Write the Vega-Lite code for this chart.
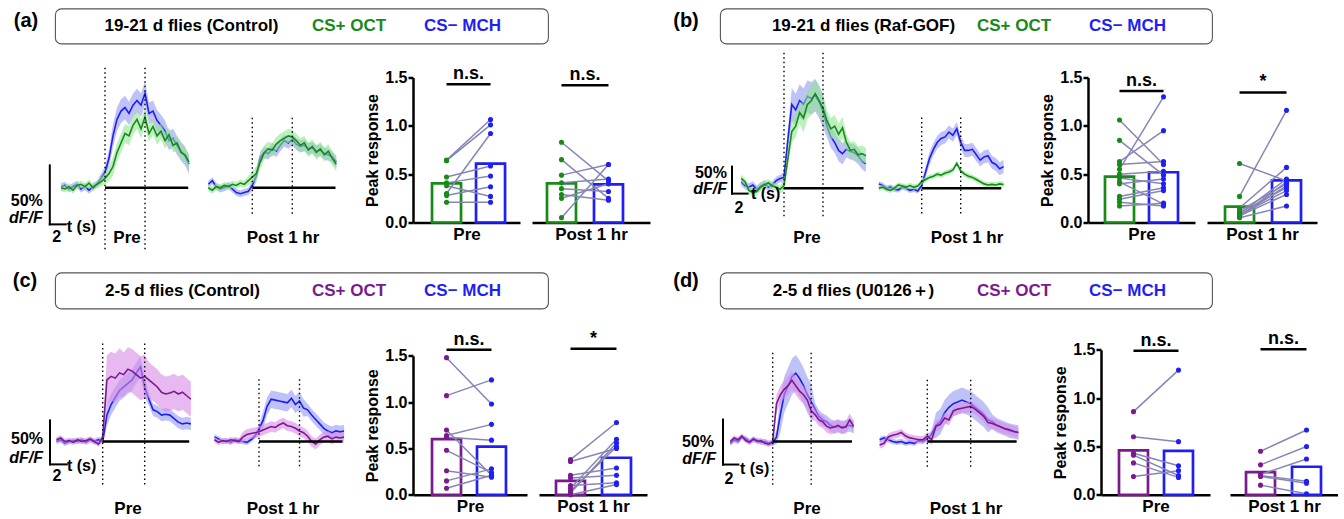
{
"$schema":"https://vega.github.io/schema/vega-lite/v6.json",
"padding":{"left":5,"top":7.5,"right":0,"bottom":0},
"spacing":0,
"resolve":{"scale":{"color":"independent","stroke":"independent"}},
"datasets":{
"a_pre":[
{"t":-5.5,"pm":0,"ps":0.03,"nm":0.01,"ns":0.03},{"t":-5,"pm":-0.01,"ps":0.03,"nm":0.02,"ns":0.03},{"t":-4.5,"pm":0.01,"ps":0.03,"nm":-0.01,"ns":0.03},{"t":-4,"pm":-0.02,"ps":0.03,"nm":0.01,"ns":0.03},{"t":-3.5,"pm":0.02,"ps":0.03,"nm":0.03,"ns":0.03},{"t":-3,"pm":0.03,"ps":0.03,"nm":-0.01,"ns":0.03},{"t":-2.5,"pm":0.01,"ps":0.03,"nm":0.01,"ns":0.03},{"t":-2,"pm":0.04,"ps":0.03,"nm":-0.02,"ns":0.03},{"t":-1.5,"pm":0,"ps":0.03,"nm":0.01,"ns":0.03},{"t":-1,"pm":0.03,"ps":0.03,"nm":0.03,"ns":0.03},{"t":-0.5,"pm":0.05,"ps":0.04,"nm":0.08,"ns":0.04},{"t":0,"pm":0.08,"ps":0.05,"nm":0.13,"ns":0.05},{"t":0.5,"pm":0.12,"ps":0.06,"nm":0.25,"ns":0.07},{"t":1,"pm":0.18,"ps":0.08,"nm":0.44,"ns":0.1},{"t":1.5,"pm":0.3,"ps":0.08,"nm":0.58,"ns":0.1},{"t":2,"pm":0.38,"ps":0.08,"nm":0.65,"ns":0.1},{"t":2.5,"pm":0.46,"ps":0.08,"nm":0.68,"ns":0.1},{"t":3,"pm":0.44,"ps":0.08,"nm":0.63,"ns":0.1},{"t":3.5,"pm":0.53,"ps":0.08,"nm":0.7,"ns":0.1},{"t":4,"pm":0.58,"ps":0.08,"nm":0.74,"ns":0.1},{"t":4.5,"pm":0.5,"ps":0.08,"nm":0.7,"ns":0.1},{"t":5,"pm":0.6,"ps":0.08,"nm":0.8,"ns":0.1},{"t":5.5,"pm":0.46,"ps":0.07,"nm":0.63,"ns":0.09},{"t":6,"pm":0.52,"ps":0.07,"nm":0.65,"ns":0.09},{"t":6.5,"pm":0.44,"ps":0.07,"nm":0.57,"ns":0.09},{"t":7,"pm":0.48,"ps":0.07,"nm":0.53,"ns":0.09},{"t":7.5,"pm":0.4,"ps":0.07,"nm":0.48,"ns":0.09},{"t":8,"pm":0.45,"ps":0.06,"nm":0.4,"ns":0.08},{"t":8.5,"pm":0.36,"ps":0.06,"nm":0.42,"ns":0.08},{"t":9,"pm":0.38,"ps":0.06,"nm":0.36,"ns":0.08},{"t":9.5,"pm":0.3,"ps":0.06,"nm":0.31,"ns":0.08},{"t":10,"pm":0.28,"ps":0.06,"nm":0.27,"ns":0.08},{"t":10.5,"pm":0.22,"ps":0.06,"nm":0.2,"ns":0.08}],
"a_post":[
{"t":-5.5,"pm":0,"ps":0.03,"nm":0.03,"ns":0.03},{"t":-5,"pm":-0.02,"ps":0.03,"nm":0.06,"ns":0.03},{"t":-4.5,"pm":0.01,"ps":0.03,"nm":0.01,"ns":0.03},{"t":-4,"pm":0,"ps":0.03,"nm":-0.01,"ns":0.03},{"t":-3.5,"pm":0.02,"ps":0.03,"nm":0,"ns":0.03},{"t":-3,"pm":0.01,"ps":0.03,"nm":0.02,"ns":0.03},{"t":-2.5,"pm":0.03,"ps":0.03,"nm":-0.01,"ns":0.03},{"t":-2,"pm":0.02,"ps":0.03,"nm":-0.04,"ns":0.03},{"t":-1.5,"pm":0.04,"ps":0.03,"nm":-0.05,"ns":0.03},{"t":-1,"pm":0.03,"ps":0.03,"nm":-0.04,"ns":0.03},{"t":-0.5,"pm":0.06,"ps":0.04,"nm":-0.03,"ns":0.03},{"t":0,"pm":0.09,"ps":0.05,"nm":0.02,"ns":0.04},{"t":0.5,"pm":0.12,"ps":0.06,"nm":0.1,"ns":0.05},{"t":1,"pm":0.22,"ps":0.06,"nm":0.26,"ns":0.05},{"t":1.5,"pm":0.3,"ps":0.06,"nm":0.3,"ns":0.05},{"t":2,"pm":0.33,"ps":0.06,"nm":0.29,"ns":0.05},{"t":2.5,"pm":0.32,"ps":0.06,"nm":0.33,"ns":0.05},{"t":3,"pm":0.37,"ps":0.06,"nm":0.31,"ns":0.05},{"t":3.5,"pm":0.4,"ps":0.06,"nm":0.36,"ns":0.05},{"t":4,"pm":0.42,"ps":0.06,"nm":0.4,"ns":0.05},{"t":4.5,"pm":0.44,"ps":0.06,"nm":0.38,"ns":0.05},{"t":5,"pm":0.43,"ps":0.06,"nm":0.41,"ns":0.05},{"t":5.5,"pm":0.4,"ps":0.06,"nm":0.37,"ns":0.05},{"t":6,"pm":0.36,"ps":0.06,"nm":0.35,"ns":0.05},{"t":6.5,"pm":0.38,"ps":0.06,"nm":0.36,"ns":0.05},{"t":7,"pm":0.32,"ps":0.06,"nm":0.33,"ns":0.05},{"t":7.5,"pm":0.35,"ps":0.06,"nm":0.34,"ns":0.05},{"t":8,"pm":0.3,"ps":0.06,"nm":0.31,"ns":0.05},{"t":8.5,"pm":0.33,"ps":0.06,"nm":0.32,"ns":0.05},{"t":9,"pm":0.28,"ps":0.06,"nm":0.29,"ns":0.05},{"t":9.5,"pm":0.31,"ps":0.06,"nm":0.28,"ns":0.05},{"t":10,"pm":0.25,"ps":0.06,"nm":0.26,"ns":0.05},{"t":10.5,"pm":0.2,"ps":0.06,"nm":0.22,"ns":0.05}],
"b_pre":[
{"t":-5.5,"pm":0.18,"ps":0.07,"nm":0.12,"ns":0.07},{"t":-5,"pm":0.12,"ps":0.07,"nm":0.05,"ns":0.07},{"t":-4.5,"pm":-0.04,"ps":0.07,"nm":0.02,"ns":0.07},{"t":-4,"pm":-0.08,"ps":0.07,"nm":0.06,"ns":0.07},{"t":-3.5,"pm":-0.06,"ps":0.07,"nm":-0.02,"ns":0.07},{"t":-3,"pm":0.02,"ps":0.07,"nm":0.04,"ns":0.07},{"t":-2.5,"pm":0.06,"ps":0.07,"nm":0.08,"ns":0.07},{"t":-2,"pm":0.1,"ps":0.07,"nm":0.02,"ns":0.07},{"t":-1.5,"pm":0.04,"ps":0.07,"nm":0.06,"ns":0.07},{"t":-1,"pm":0.02,"ps":0.07,"nm":0.14,"ns":0.07},{"t":-0.5,"pm":-0.02,"ps":0.07,"nm":0.18,"ns":0.07},{"t":0,"pm":0.05,"ps":0.1,"nm":0.2,"ns":0.1},{"t":0.5,"pm":0.55,"ps":0.15,"nm":0.9,"ns":0.2},{"t":1,"pm":1.05,"ps":0.2,"nm":1.55,"ns":0.3},{"t":1.5,"pm":1.15,"ps":0.2,"nm":1.45,"ns":0.3},{"t":2,"pm":1.4,"ps":0.2,"nm":1.62,"ns":0.3},{"t":2.5,"pm":1.3,"ps":0.27,"nm":1.55,"ns":0.3},{"t":3,"pm":1.55,"ps":0.27,"nm":1.7,"ns":0.3},{"t":3.5,"pm":1.62,"ps":0.27,"nm":1.66,"ns":0.3},{"t":4,"pm":1.75,"ps":0.27,"nm":1.72,"ns":0.3},{"t":4.5,"pm":1.62,"ps":0.27,"nm":1.6,"ns":0.3},{"t":5,"pm":1.48,"ps":0.27,"nm":1.42,"ns":0.3},{"t":5.5,"pm":1.25,"ps":0.2,"nm":1.15,"ns":0.2},{"t":6,"pm":1.1,"ps":0.2,"nm":0.95,"ns":0.2},{"t":6.5,"pm":1.15,"ps":0.2,"nm":0.85,"ns":0.2},{"t":7,"pm":1.0,"ps":0.2,"nm":0.7,"ns":0.2},{"t":7.5,"pm":1.12,"ps":0.2,"nm":0.64,"ns":0.2},{"t":8,"pm":0.85,"ps":0.15,"nm":0.72,"ns":0.15},{"t":8.5,"pm":0.7,"ps":0.15,"nm":0.68,"ns":0.15},{"t":9,"pm":0.72,"ps":0.15,"nm":0.66,"ns":0.15},{"t":9.5,"pm":0.62,"ps":0.15,"nm":0.6,"ns":0.15},{"t":10,"pm":0.64,"ps":0.15,"nm":0.5,"ns":0.15},{"t":10.5,"pm":0.6,"ps":0.15,"nm":0.45,"ns":0.15}],
"b_post":[
{"t":-5.5,"pm":0,"ps":0.05,"nm":0.08,"ns":0.05},{"t":-5,"pm":0.02,"ps":0.05,"nm":0.05,"ns":0.05},{"t":-4.5,"pm":-0.02,"ps":0.05,"nm":0,"ns":0.05},{"t":-4,"pm":-0.04,"ps":0.05,"nm":0.02,"ns":0.05},{"t":-3.5,"pm":0,"ps":0.05,"nm":-0.02,"ns":0.05},{"t":-3,"pm":0.06,"ps":0.05,"nm":-0.03,"ns":0.05},{"t":-2.5,"pm":0.04,"ps":0.05,"nm":0.02,"ns":0.05},{"t":-2,"pm":0.02,"ps":0.05,"nm":0,"ns":0.05},{"t":-1.5,"pm":0.05,"ps":0.05,"nm":-0.04,"ns":0.05},{"t":-1,"pm":0.02,"ps":0.05,"nm":-0.02,"ns":0.05},{"t":-0.5,"pm":0.04,"ps":0.05,"nm":-0.05,"ns":0.05},{"t":0,"pm":0.12,"ps":0.05,"nm":0.05,"ns":0.06},{"t":0.5,"pm":0.16,"ps":0.05,"nm":0.3,"ns":0.1},{"t":1,"pm":0.2,"ps":0.05,"nm":0.55,"ns":0.12},{"t":1.5,"pm":0.22,"ps":0.05,"nm":0.72,"ns":0.12},{"t":2,"pm":0.26,"ps":0.05,"nm":0.85,"ns":0.12},{"t":2.5,"pm":0.24,"ps":0.05,"nm":0.92,"ns":0.12},{"t":3,"pm":0.28,"ps":0.05,"nm":0.95,"ns":0.12},{"t":3.5,"pm":0.3,"ps":0.05,"nm":1.04,"ns":0.12},{"t":4,"pm":0.34,"ps":0.05,"nm":0.98,"ns":0.12},{"t":4.5,"pm":0.46,"ps":0.05,"nm":1.1,"ns":0.12},{"t":5,"pm":0.32,"ps":0.05,"nm":0.85,"ns":0.12},{"t":5.5,"pm":0.26,"ps":0.05,"nm":0.7,"ns":0.12},{"t":6,"pm":0.22,"ps":0.05,"nm":0.7,"ns":0.12},{"t":6.5,"pm":0.2,"ps":0.05,"nm":0.72,"ns":0.12},{"t":7,"pm":0.16,"ps":0.05,"nm":0.62,"ns":0.12},{"t":7.5,"pm":0.12,"ps":0.05,"nm":0.52,"ns":0.12},{"t":8,"pm":0.08,"ps":0.05,"nm":0.58,"ns":0.12},{"t":8.5,"pm":0.06,"ps":0.05,"nm":0.6,"ns":0.12},{"t":9,"pm":0.07,"ps":0.05,"nm":0.48,"ns":0.12},{"t":9.5,"pm":0.06,"ps":0.05,"nm":0.44,"ns":0.12},{"t":10,"pm":0.08,"ps":0.05,"nm":0.36,"ns":0.12},{"t":10.5,"pm":0.07,"ps":0.05,"nm":0.4,"ns":0.12}],
"c_pre":[
{"t":-5.5,"pm":0.02,"ps":0.03,"nm":0,"ns":0.03},{"t":-5,"pm":0.04,"ps":0.03,"nm":0.02,"ns":0.03},{"t":-4.5,"pm":0,"ps":0.03,"nm":-0.02,"ns":0.03},{"t":-4,"pm":0.01,"ps":0.03,"nm":0,"ns":0.03},{"t":-3.5,"pm":-0.01,"ps":0.03,"nm":0.01,"ns":0.03},{"t":-3,"pm":0.02,"ps":0.03,"nm":0,"ns":0.03},{"t":-2.5,"pm":0,"ps":0.03,"nm":0.02,"ns":0.03},{"t":-2,"pm":0.01,"ps":0.03,"nm":-0.01,"ns":0.03},{"t":-1.5,"pm":0.03,"ps":0.03,"nm":0.02,"ns":0.03},{"t":-1,"pm":0,"ps":0.03,"nm":0,"ns":0.03},{"t":-0.5,"pm":-0.03,"ps":0.03,"nm":0.02,"ns":0.03},{"t":0,"pm":0.05,"ps":0.05,"nm":0,"ns":0.04},{"t":0.5,"pm":0.7,"ps":0.28,"nm":0.3,"ns":0.12},{"t":1,"pm":0.74,"ps":0.28,"nm":0.42,"ns":0.12},{"t":1.5,"pm":0.72,"ps":0.28,"nm":0.5,"ns":0.12},{"t":2,"pm":0.78,"ps":0.28,"nm":0.58,"ns":0.12},{"t":2.5,"pm":0.76,"ps":0.25,"nm":0.62,"ns":0.12},{"t":3,"pm":0.82,"ps":0.25,"nm":0.66,"ns":0.12},{"t":3.5,"pm":0.8,"ps":0.25,"nm":0.7,"ns":0.12},{"t":4,"pm":0.76,"ps":0.25,"nm":0.78,"ns":0.12},{"t":4.5,"pm":0.72,"ps":0.25,"nm":0.85,"ns":0.12},{"t":5,"pm":0.74,"ps":0.25,"nm":0.62,"ns":0.12},{"t":5.5,"pm":0.7,"ps":0.2,"nm":0.48,"ns":0.07},{"t":6,"pm":0.66,"ps":0.2,"nm":0.36,"ns":0.07},{"t":6.5,"pm":0.62,"ps":0.2,"nm":0.34,"ns":0.07},{"t":7,"pm":0.56,"ps":0.2,"nm":0.3,"ns":0.07},{"t":7.5,"pm":0.54,"ps":0.2,"nm":0.31,"ns":0.07},{"t":8,"pm":0.55,"ps":0.2,"nm":0.3,"ns":0.07},{"t":8.5,"pm":0.57,"ps":0.2,"nm":0.26,"ns":0.07},{"t":9,"pm":0.54,"ps":0.2,"nm":0.22,"ns":0.07},{"t":9.5,"pm":0.56,"ps":0.2,"nm":0.2,"ns":0.07},{"t":10,"pm":0.52,"ps":0.2,"nm":0.21,"ns":0.07},{"t":10.5,"pm":0.48,"ps":0.2,"nm":0.2,"ns":0.07}],
"c_post":[
{"t":-5.5,"pm":0.02,"ps":0.03,"nm":0.05,"ns":0.03},{"t":-5,"pm":-0.01,"ps":0.03,"nm":0.03,"ns":0.03},{"t":-4.5,"pm":0.01,"ps":0.03,"nm":0,"ns":0.03},{"t":-4,"pm":0,"ps":0.03,"nm":0.01,"ns":0.03},{"t":-3.5,"pm":0.02,"ps":0.03,"nm":-0.01,"ns":0.03},{"t":-3,"pm":0.01,"ps":0.03,"nm":0.02,"ns":0.03},{"t":-2.5,"pm":0,"ps":0.03,"nm":0.01,"ns":0.03},{"t":-2,"pm":0.05,"ps":0.06,"nm":0,"ns":0.03},{"t":-1.5,"pm":0.08,"ps":0.06,"nm":-0.01,"ns":0.03},{"t":-1,"pm":0.09,"ps":0.06,"nm":0.02,"ns":0.03},{"t":-0.5,"pm":0.1,"ps":0.06,"nm":0.06,"ns":0.03},{"t":0,"pm":0.11,"ps":0.06,"nm":0.14,"ns":0.05},{"t":0.5,"pm":0.13,"ps":0.06,"nm":0.24,"ns":0.1},{"t":1,"pm":0.15,"ps":0.06,"nm":0.4,"ns":0.1},{"t":1.5,"pm":0.17,"ps":0.06,"nm":0.48,"ns":0.1},{"t":2,"pm":0.16,"ps":0.06,"nm":0.47,"ns":0.1},{"t":2.5,"pm":0.19,"ps":0.06,"nm":0.46,"ns":0.1},{"t":3,"pm":0.21,"ps":0.06,"nm":0.45,"ns":0.1},{"t":3.5,"pm":0.18,"ps":0.06,"nm":0.44,"ns":0.1},{"t":4,"pm":0.17,"ps":0.06,"nm":0.49,"ns":0.1},{"t":4.5,"pm":0.15,"ps":0.06,"nm":0.42,"ns":0.1},{"t":5,"pm":0.12,"ps":0.06,"nm":0.46,"ns":0.1},{"t":5.5,"pm":0.1,"ps":0.06,"nm":0.38,"ns":0.1},{"t":6,"pm":0.06,"ps":0.06,"nm":0.36,"ns":0.07},{"t":6.5,"pm":0,"ps":0.06,"nm":0.3,"ns":0.07},{"t":7,"pm":-0.03,"ps":0.06,"nm":0.25,"ns":0.07},{"t":7.5,"pm":0.02,"ps":0.06,"nm":0.2,"ns":0.07},{"t":8,"pm":0.05,"ps":0.06,"nm":0.15,"ns":0.07},{"t":8.5,"pm":0.06,"ps":0.06,"nm":0.12,"ns":0.07},{"t":9,"pm":0.03,"ps":0.06,"nm":0.1,"ns":0.07},{"t":9.5,"pm":0.05,"ps":0.06,"nm":0.12,"ns":0.07},{"t":10,"pm":0.04,"ps":0.06,"nm":0.11,"ns":0.07},{"t":10.5,"pm":0.05,"ps":0.06,"nm":0.12,"ns":0.07}],
"d_pre":[
{"t":-5.5,"pm":0,"ps":0.03,"nm":-0.02,"ns":0.03},{"t":-5,"pm":0.04,"ps":0.03,"nm":0.02,"ns":0.03},{"t":-4.5,"pm":0.02,"ps":0.03,"nm":0,"ns":0.03},{"t":-4,"pm":0.06,"ps":0.03,"nm":0.05,"ns":0.03},{"t":-3.5,"pm":0.01,"ps":0.03,"nm":0.03,"ns":0.03},{"t":-3,"pm":-0.01,"ps":0.03,"nm":0,"ns":0.03},{"t":-2.5,"pm":0.03,"ps":0.03,"nm":0.02,"ns":0.03},{"t":-2,"pm":0,"ps":0.03,"nm":0.01,"ns":0.03},{"t":-1.5,"pm":0.01,"ps":0.03,"nm":-0.01,"ns":0.03},{"t":-1,"pm":-0.02,"ps":0.03,"nm":0,"ns":0.03},{"t":-0.5,"pm":-0.03,"ps":0.03,"nm":-0.02,"ns":0.03},{"t":0,"pm":0,"ps":0.03,"nm":-0.02,"ns":0.03},{"t":0.5,"pm":0.42,"ps":0.1,"nm":0.05,"ns":0.08},{"t":1,"pm":0.52,"ps":0.1,"nm":0.3,"ns":0.2},{"t":1.5,"pm":0.58,"ps":0.1,"nm":0.52,"ns":0.2},{"t":2,"pm":0.62,"ps":0.1,"nm":0.62,"ns":0.2},{"t":2.5,"pm":0.68,"ps":0.1,"nm":0.72,"ns":0.2},{"t":3,"pm":0.62,"ps":0.1,"nm":0.76,"ns":0.2},{"t":3.5,"pm":0.56,"ps":0.1,"nm":0.7,"ns":0.2},{"t":4,"pm":0.52,"ps":0.1,"nm":0.62,"ns":0.2},{"t":4.5,"pm":0.46,"ps":0.1,"nm":0.52,"ns":0.2},{"t":5,"pm":0.34,"ps":0.1,"nm":0.44,"ns":0.2},{"t":5.5,"pm":0.3,"ps":0.07,"nm":0.36,"ns":0.07},{"t":6,"pm":0.24,"ps":0.07,"nm":0.28,"ns":0.07},{"t":6.5,"pm":0.22,"ps":0.07,"nm":0.24,"ns":0.07},{"t":7,"pm":0.17,"ps":0.07,"nm":0.22,"ns":0.07},{"t":7.5,"pm":0.15,"ps":0.07,"nm":0.18,"ns":0.07},{"t":8,"pm":0.16,"ps":0.07,"nm":0.16,"ns":0.07},{"t":8.5,"pm":0.18,"ps":0.07,"nm":0.17,"ns":0.07},{"t":9,"pm":0.15,"ps":0.07,"nm":0.16,"ns":0.07},{"t":9.5,"pm":0.16,"ps":0.07,"nm":0.17,"ns":0.07},{"t":10,"pm":0.24,"ps":0.07,"nm":0.18,"ns":0.07},{"t":10.5,"pm":0.17,"ps":0.07,"nm":0.16,"ns":0.07}],
"d_post":[
{"t":-5.5,"pm":-0.04,"ps":0.04,"nm":0.02,"ns":0.03},{"t":-5,"pm":-0.02,"ps":0.04,"nm":0.04,"ns":0.03},{"t":-4.5,"pm":0.05,"ps":0.04,"nm":0.02,"ns":0.03},{"t":-4,"pm":0.07,"ps":0.04,"nm":0,"ns":0.03},{"t":-3.5,"pm":0.08,"ps":0.04,"nm":-0.01,"ns":0.03},{"t":-3,"pm":0.1,"ps":0.04,"nm":0,"ns":0.03},{"t":-2.5,"pm":0.06,"ps":0.04,"nm":-0.02,"ns":0.03},{"t":-2,"pm":0.04,"ps":0.04,"nm":-0.01,"ns":0.03},{"t":-1.5,"pm":0.03,"ps":0.04,"nm":-0.02,"ns":0.03},{"t":-1,"pm":0.02,"ps":0.04,"nm":0.01,"ns":0.03},{"t":-0.5,"pm":0.02,"ps":0.04,"nm":0,"ns":0.03},{"t":0,"pm":0.06,"ps":0.04,"nm":0.03,"ns":0.03},{"t":0.5,"pm":0.02,"ps":0.06,"nm":0.08,"ns":0.05},{"t":1,"pm":0.17,"ps":0.06,"nm":0.18,"ns":0.14},{"t":1.5,"pm":0.19,"ps":0.06,"nm":0.22,"ns":0.14},{"t":2,"pm":0.26,"ps":0.06,"nm":0.32,"ns":0.14},{"t":2.5,"pm":0.24,"ps":0.06,"nm":0.38,"ns":0.14},{"t":3,"pm":0.34,"ps":0.06,"nm":0.42,"ns":0.14},{"t":3.5,"pm":0.36,"ps":0.06,"nm":0.44,"ns":0.14},{"t":4,"pm":0.37,"ps":0.06,"nm":0.46,"ns":0.14},{"t":4.5,"pm":0.38,"ps":0.06,"nm":0.44,"ns":0.14},{"t":5,"pm":0.39,"ps":0.06,"nm":0.42,"ns":0.14},{"t":5.5,"pm":0.36,"ps":0.06,"nm":0.38,"ns":0.14},{"t":6,"pm":0.32,"ps":0.06,"nm":0.34,"ns":0.14},{"t":6.5,"pm":0.28,"ps":0.06,"nm":0.3,"ns":0.14},{"t":7,"pm":0.21,"ps":0.06,"nm":0.24,"ns":0.14},{"t":7.5,"pm":0.2,"ps":0.06,"nm":0.22,"ns":0.08},{"t":8,"pm":0.18,"ps":0.06,"nm":0.18,"ns":0.08},{"t":8.5,"pm":0.16,"ps":0.06,"nm":0.16,"ns":0.08},{"t":9,"pm":0.14,"ps":0.06,"nm":0.14,"ns":0.08},{"t":9.5,"pm":0.13,"ps":0.06,"nm":0.12,"ns":0.08},{"t":10,"pm":0.11,"ps":0.06,"nm":0.11,"ns":0.08},{"t":10.5,"pm":0.1,"ps":0.06,"nm":0.1,"ns":0.08}],
"dl":[
{"p":"a","ph":"Pre","t":0,"lo":-0.52,"hi":1.02},{"p":"a","ph":"Pre","t":5,"lo":-0.52,"hi":1.02},
{"p":"a","ph":"Post","t":0,"lo":-0.22,"hi":0.6},{"p":"a","ph":"Post","t":5,"lo":-0.22,"hi":0.6},
{"p":"b","ph":"Pre","t":0,"lo":-0.52,"hi":2.51},{"p":"b","ph":"Pre","t":5,"lo":-0.52,"hi":2.51},
{"p":"b","ph":"Post","t":0,"lo":-0.47,"hi":1.35},{"p":"b","ph":"Post","t":5,"lo":-0.47,"hi":1.35},
{"p":"c","ph":"Pre","t":0,"lo":-0.49,"hi":1.14},{"p":"c","ph":"Pre","t":5,"lo":-0.49,"hi":1.14},
{"p":"c","ph":"Post","t":0,"lo":-0.28,"hi":0.72},{"p":"c","ph":"Post","t":5,"lo":-0.28,"hi":0.72},
{"p":"d","ph":"Pre","t":0,"lo":-0.48,"hi":1.02},{"p":"d","ph":"Pre","t":5,"lo":-0.48,"hi":1.02},
{"p":"d","ph":"Post","t":0,"lo":-0.28,"hi":0.7},{"p":"d","ph":"Post","t":5,"lo":-0.28,"hi":0.7}],
"bl":[
{"p":"a","ph":"Pre","t":0,"t2":10.4,"v":0},{"p":"a","ph":"Post","t":0,"t2":10.4,"v":0},
{"p":"b","ph":"Pre","t":0,"t2":10.2,"v":0},{"p":"b","ph":"Post","t":0,"t2":10.2,"v":0},
{"p":"c","ph":"Pre","t":0,"t2":10.3,"v":0},{"p":"c","ph":"Post","t":0,"t2":10.3,"v":0},
{"p":"d","ph":"Pre","t":0,"t2":10.3,"v":0},{"p":"d","ph":"Post","t":0,"t2":10.3,"v":0}],
"sb":[
{"p":"a","t":-6.9,"t2":-4.9,"v":-0.31,"v2":0.19},
{"p":"b","t":-6.67,"t2":-4.67,"v":-0.1,"v2":0.4},
{"p":"c","t":-6.27,"t2":-4.27,"v":-0.26,"v2":0.24},
{"p":"d","t":-6.45,"t2":-4.45,"v":-0.256,"v2":0.244}],
"bars":[
{"p":"a","ph":"Pre","o":"CS+","v":0.405},{"p":"a","ph":"Pre","o":"CS−","v":0.61},
{"p":"a","ph":"Post","o":"CS+","v":0.405},{"p":"a","ph":"Post","o":"CS−","v":0.395},
{"p":"b","ph":"Pre","o":"CS+","v":0.475},{"p":"b","ph":"Pre","o":"CS−","v":0.52},
{"p":"b","ph":"Post","o":"CS+","v":0.165},{"p":"b","ph":"Post","o":"CS−","v":0.435},
{"p":"c","ph":"Pre","o":"CS+","v":0.6},{"p":"c","ph":"Pre","o":"CS−","v":0.52},
{"p":"c","ph":"Post","o":"CS+","v":0.15},{"p":"c","ph":"Post","o":"CS−","v":0.4},
{"p":"d","ph":"Pre","o":"CS+","v":0.46},{"p":"d","ph":"Pre","o":"CS−","v":0.455},
{"p":"d","ph":"Post","o":"CS+","v":0.235},{"p":"d","ph":"Post","o":"CS−","v":0.29}],
"sig":[
{"p":"a","ph":"Pre","a":"CS+","b":"CS−","y":1.43,"s":"n.s."},
{"p":"a","ph":"Post","a":"CS+","b":"CS−","y":1.42,"s":"n.s."},
{"p":"b","ph":"Pre","a":"CS+","b":"CS−","y":1.36,"s":"n.s."},
{"p":"b","ph":"Post","a":"CS+","b":"CS−","y":1.345,"s":"*"},
{"p":"c","ph":"Pre","a":"CS+","b":"CS−","y":1.565,"s":"n.s."},
{"p":"c","ph":"Post","a":"CS+","b":"CS−","y":1.575,"s":"*"},
{"p":"d","ph":"Pre","a":"CS+","b":"CS−","y":1.49,"s":"n.s."},
{"p":"d","ph":"Post","a":"CS+","b":"CS−","y":1.505,"s":"n.s."}],
"pts":[
{"p":"a","ph":"Pre","id":1,"CS+":0.645,"CS−":1.065},{"p":"a","ph":"Pre","id":2,"CS+":0.64,"CS−":1.01},{"p":"a","ph":"Pre","id":3,"CS+":0.3,"CS−":0.92},{"p":"a","ph":"Pre","id":4,"CS+":0.47,"CS−":0.585},{"p":"a","ph":"Pre","id":5,"CS+":0.41,"CS−":0.48},{"p":"a","ph":"Pre","id":6,"CS+":0.38,"CS−":0.27},{"p":"a","ph":"Pre","id":7,"CS+":0.28,"CS−":0.37},{"p":"a","ph":"Pre","id":8,"CS+":0.21,"CS−":0.21},
{"p":"a","ph":"Post","id":1,"CS+":0.83,"CS−":0.43},{"p":"a","ph":"Post","id":2,"CS+":0.65,"CS−":0.25},{"p":"a","ph":"Post","id":3,"CS+":0.49,"CS−":0.6},{"p":"a","ph":"Post","id":4,"CS+":0.41,"CS−":0.45},{"p":"a","ph":"Post","id":5,"CS+":0.35,"CS−":0.32},{"p":"a","ph":"Post","id":6,"CS+":0.29,"CS−":0.23},{"p":"a","ph":"Post","id":7,"CS+":0.25,"CS−":0.4},{"p":"a","ph":"Post","id":8,"CS+":0.05,"CS−":0.6},
{"p":"b","ph":"Pre","id":1,"CS+":1.06,"CS−":0.6},{"p":"b","ph":"Pre","id":2,"CS+":0.85,"CS−":0.49},{"p":"b","ph":"Pre","id":3,"CS+":0.63,"CS−":0.95},{"p":"b","ph":"Pre","id":4,"CS+":0.6,"CS−":0.63},{"p":"b","ph":"Pre","id":5,"CS+":0.55,"CS−":1.3},{"p":"b","ph":"Pre","id":6,"CS+":0.5,"CS−":0.53},{"p":"b","ph":"Pre","id":7,"CS+":0.46,"CS−":0.4},{"p":"b","ph":"Pre","id":8,"CS+":0.42,"CS−":0.19},{"p":"b","ph":"Pre","id":9,"CS+":0.4,"CS−":0.45},{"p":"b","ph":"Pre","id":10,"CS+":0.27,"CS−":0.36},{"p":"b","ph":"Pre","id":11,"CS+":0.24,"CS−":0.33},{"p":"b","ph":"Pre","id":12,"CS+":0.21,"CS−":0.17},{"p":"b","ph":"Pre","id":13,"CS+":0.17,"CS−":0.2},
{"p":"b","ph":"Post","id":1,"CS+":0.61,"CS−":0.43},{"p":"b","ph":"Post","id":2,"CS+":0.27,"CS−":1.16},{"p":"b","ph":"Post","id":3,"CS+":0.15,"CS−":0.57},{"p":"b","ph":"Post","id":4,"CS+":0.12,"CS−":0.4},{"p":"b","ph":"Post","id":5,"CS+":0.1,"CS−":0.36},{"p":"b","ph":"Post","id":6,"CS+":0.09,"CS−":0.45},{"p":"b","ph":"Post","id":7,"CS+":0.08,"CS−":0.33},{"p":"b","ph":"Post","id":8,"CS+":0.07,"CS−":0.29},{"p":"b","ph":"Post","id":9,"CS+":0.06,"CS−":0.42},{"p":"b","ph":"Post","id":10,"CS+":0.05,"CS−":0.17},{"p":"b","ph":"Post","id":11,"CS+":0.07,"CS−":0.38},
{"p":"c","ph":"Pre","id":1,"CS+":1.48,"CS−":0.98},{"p":"c","ph":"Pre","id":2,"CS+":1.07,"CS−":1.24},{"p":"c","ph":"Pre","id":3,"CS+":0.7,"CS−":0.21},{"p":"c","ph":"Pre","id":4,"CS+":0.64,"CS−":0.76},{"p":"c","ph":"Pre","id":5,"CS+":0.62,"CS−":0.59},{"p":"c","ph":"Pre","id":6,"CS+":0.48,"CS−":0.24},{"p":"c","ph":"Pre","id":7,"CS+":0.26,"CS−":0.19},{"p":"c","ph":"Pre","id":8,"CS+":0.15,"CS−":0.28},{"p":"c","ph":"Pre","id":9,"CS+":0.07,"CS−":0.21},
{"p":"c","ph":"Post","id":1,"CS+":0.38,"CS−":0.78},{"p":"c","ph":"Post","id":2,"CS+":0.36,"CS−":0.5},{"p":"c","ph":"Post","id":3,"CS+":0.21,"CS−":0.29},{"p":"c","ph":"Post","id":4,"CS+":0.18,"CS−":0.21},{"p":"c","ph":"Post","id":5,"CS+":0.1,"CS−":0.13},{"p":"c","ph":"Post","id":6,"CS+":0.07,"CS−":0.6},{"p":"c","ph":"Post","id":7,"CS+":0.04,"CS−":0.52},{"p":"c","ph":"Post","id":8,"CS+":0.02,"CS−":0.56},{"p":"c","ph":"Post","id":9,"CS+":0.0,"CS−":0.11},
{"p":"d","ph":"Pre","id":1,"CS+":0.86,"CS−":1.29},{"p":"d","ph":"Pre","id":2,"CS+":0.6,"CS−":0.55},{"p":"d","ph":"Pre","id":3,"CS+":0.43,"CS−":0.3},{"p":"d","ph":"Pre","id":4,"CS+":0.41,"CS−":0.2},{"p":"d","ph":"Pre","id":5,"CS+":0.33,"CS−":0.18},{"p":"d","ph":"Pre","id":6,"CS+":0.19,"CS−":0.25},
{"p":"d","ph":"Post","id":1,"CS+":0.45,"CS−":0.67},{"p":"d","ph":"Post","id":2,"CS+":0.31,"CS−":0.5},{"p":"d","ph":"Post","id":3,"CS+":0.21,"CS−":0.37},{"p":"d","ph":"Post","id":4,"CS+":0.19,"CS−":0.12},{"p":"d","ph":"Post","id":5,"CS+":0.2,"CS−":0.14},{"p":"d","ph":"Post","id":6,"CS+":0.1,"CS−":0.01}]
},
"vconcat":[
{"hconcat":[
{"width":50,"height":35,"data":{"values":[{"lab":"(a)"}]},"mark":{"type":"text","fontSize":20,"dx":-4,"dy":-5.5},"encoding":{"text":{"field":"lab"}}},
{"width":493,"height":35,"view":{"stroke":"#555555","strokeWidth":1.1,"cornerRadius":6},"data":{"values":[{"k":"t","lab":"19-21 d flies (Control)"},{"k":"CS+","lab":"CS+ OCT"},{"k":"CS−","lab":"CS− MCH"}]},
 "layer":[
 {"transform":[{"filter":"datum.k=='t'"}],"mark":{"type":"text","fontSize":17,"dx":-110},"encoding":{"text":{"field":"lab"}}},
 {"transform":[{"filter":"datum.k=='CS+'"}],"mark":{"type":"text","fontSize":17,"dx":47.5,"color":"#178a17"},"encoding":{"text":{"field":"lab"}}},
 {"transform":[{"filter":"datum.k=='CS−'"}],"mark":{"type":"text","fontSize":17,"dx":161,"color":"#1f1ff5"},"encoding":{"text":{"field":"lab"}}}
 ]},
{"width":124,"height":39,"data":{"values":[{}]},"mark":{"type":"point","opacity":0}},
{"width":48,"height":35,"data":{"values":[{"lab":"(b)"}]},"mark":{"type":"text","fontSize":20,"dx":-10,"dy":-5.5},"encoding":{"text":{"field":"lab"}}},
{"width":492,"height":35,"view":{"stroke":"#555555","strokeWidth":1.1,"cornerRadius":6},"data":{"values":[{"k":"t","lab":"19-21 d flies (Raf-GOF)"},{"k":"CS+","lab":"CS+ OCT"},{"k":"CS−","lab":"CS− MCH"}]},
 "layer":[
 {"transform":[{"filter":"datum.k=='t'"}],"mark":{"type":"text","fontSize":17,"dx":-102.5},"encoding":{"text":{"field":"lab"}}},
 {"transform":[{"filter":"datum.k=='CS+'"}],"mark":{"type":"text","fontSize":17,"dx":48,"color":"#178a17"},"encoding":{"text":{"field":"lab"}}},
 {"transform":[{"filter":"datum.k=='CS−'"}],"mark":{"type":"text","fontSize":17,"dx":161.5,"color":"#1f1ff5"},"encoding":{"text":{"field":"lab"}}}
 ]}
],"spacing":0,"bounds":"flush"},

{"hconcat":[
{"width":200,"height":200,"data":{"name":"a_pre"},"layer":[
 {"mark":{"type":"errorband","color":"#7f86ee","opacity":0.5},"encoding":{"x":{"field":"t","type":"quantitative","scale":{"domain":[-12.5,12.5],"nice":false,"zero":false},"axis":null},"y":{"field":"nm","type":"quantitative","scale":{"domain":[-0.5314,1.1636],"nice":false,"zero":false},"axis":null},"yError":{"field":"ns"}}},
 {"mark":{"type":"line","color":"#1f1ff5","strokeWidth":1.6},"encoding":{"x":{"field":"t","type":"quantitative","axis":null},"y":{"field":"nm","type":"quantitative","axis":null}}},
 {"mark":{"type":"errorband","color":"#8fe68f","opacity":0.6},"encoding":{"x":{"field":"t","type":"quantitative","axis":null},"y":{"field":"pm","type":"quantitative","axis":null},"yError":{"field":"ps"}}},
 {"mark":{"type":"line","color":"#178a17","strokeWidth":1.6},"encoding":{"x":{"field":"t","type":"quantitative","axis":null},"y":{"field":"pm","type":"quantitative","axis":null}}},
 {"data":{"name":"dl"},"transform":[{"filter":"datum.p=='a'&&datum.ph=='Pre'"}],"mark":{"type":"rule","color":"black","strokeWidth":1.4,"strokeDash":[1.5,3]},"encoding":{"x":{"field":"t","type":"quantitative","axis":null},"y":{"field":"lo","type":"quantitative","axis":null},"y2":{"field":"hi"}}},
 {"data":{"name":"bl"},"transform":[{"filter":"datum.p=='a'&&datum.ph=='Pre'"}],"mark":{"type":"rule","color":"black","strokeWidth":2.5},"encoding":{"x":{"field":"t","type":"quantitative","axis":null},"x2":{"field":"t2"},"y":{"field":"v","type":"quantitative","axis":null}}},
 {"data":{"name":"sb"},"transform":[{"filter":"datum.p=='a'"}],"mark":{"type":"rule","color":"black","strokeWidth":2,"strokeCap":"square"},"encoding":{"x":{"field":"t","type":"quantitative","axis":null},"y":{"field":"v","type":"quantitative","axis":null},"y2":{"field":"v2"}}},
 {"data":{"name":"sb"},"transform":[{"filter":"datum.p=='a'"}],"mark":{"type":"rule","color":"black","strokeWidth":2,"strokeCap":"square"},"encoding":{"x":{"field":"t","type":"quantitative","axis":null},"x2":{"field":"t2"},"y":{"field":"v","type":"quantitative","axis":null}}},
 {"data":{"name":"sb"},"transform":[{"filter":"datum.p=='a'"}],"mark":{"type":"text","text":"50%","align":"right","dx":-7,"dy":-23},"encoding":{"x":{"field":"t","type":"quantitative","axis":null},"y":{"field":"v","type":"quantitative","axis":null}}},
 {"data":{"name":"sb"},"transform":[{"filter":"datum.p=='a'"}],"mark":{"type":"text","text":"dF/F","fontStyle":"italic","align":"right","dx":-7,"dy":-6},"encoding":{"x":{"field":"t","type":"quantitative","axis":null},"y":{"field":"v","type":"quantitative","axis":null}}},
 {"data":{"name":"sb"},"transform":[{"filter":"datum.p=='a'"}],"mark":{"type":"text","text":"2","align":"center","dx":7,"dy":13},"encoding":{"x":{"field":"t","type":"quantitative","axis":null},"y":{"field":"v","type":"quantitative","axis":null}}},
 {"data":{"name":"sb"},"transform":[{"filter":"datum.p=='a'"}],"mark":{"type":"text","text":"t (s)","align":"left","dx":17,"dy":3},"encoding":{"x":{"field":"t","type":"quantitative","axis":null},"y":{"field":"v","type":"quantitative","axis":null}}},
 {"data":{"values":[{"lab":"Pre"}]},"mark":{"type":"text","fontSize":17,"dx":22,"dy":87},"encoding":{"text":{"field":"lab"}}}
]},
{"width":208,"height":200,"data":{"name":"a_post"},"layer":[
 {"mark":{"type":"errorband","color":"#7f86ee","opacity":0.5},"encoding":{"x":{"field":"t","type":"quantitative","scale":{"domain":[-5.9125,20.0875],"nice":false,"zero":false},"axis":null},"y":{"field":"nm","type":"quantitative","scale":{"domain":[-0.5314,1.1636],"nice":false,"zero":false},"axis":null},"yError":{"field":"ns"}}},
 {"mark":{"type":"line","color":"#1f1ff5","strokeWidth":1.6},"encoding":{"x":{"field":"t","type":"quantitative","axis":null},"y":{"field":"nm","type":"quantitative","axis":null}}},
 {"mark":{"type":"errorband","color":"#8fe68f","opacity":0.6},"encoding":{"x":{"field":"t","type":"quantitative","axis":null},"y":{"field":"pm","type":"quantitative","axis":null},"yError":{"field":"ps"}}},
 {"mark":{"type":"line","color":"#178a17","strokeWidth":1.6},"encoding":{"x":{"field":"t","type":"quantitative","axis":null},"y":{"field":"pm","type":"quantitative","axis":null}}},
 {"data":{"name":"dl"},"transform":[{"filter":"datum.p=='a'&&datum.ph=='Post'"}],"mark":{"type":"rule","color":"black","strokeWidth":1.4,"strokeDash":[1.5,3]},"encoding":{"x":{"field":"t","type":"quantitative","axis":null},"y":{"field":"lo","type":"quantitative","axis":null},"y2":{"field":"hi"}}},
 {"data":{"name":"bl"},"transform":[{"filter":"datum.p=='a'&&datum.ph=='Post'"}],"mark":{"type":"rule","color":"black","strokeWidth":2.5},"encoding":{"x":{"field":"t","type":"quantitative","axis":null},"x2":{"field":"t2"},"y":{"field":"v","type":"quantitative","axis":null}}},
 {"data":{"values":[{"lab":"Post 1 hr"}]},"mark":{"type":"text","fontSize":17,"dx":-26,"dy":87},"encoding":{"text":{"field":"lab"}}}
]},
{"width":107,"height":200,"layer":[
 {"data":{"name":"bars"},"transform":[{"filter":"datum.p=='a'&&datum.ph=='Pre'"}],"mark":{"type":"bar","fill":"white","fillOpacity":0,"strokeWidth":2.7},"encoding":{"x":{"field":"o","type":"nominal","scale":{"domain":["CS+","CS−"],"paddingInner":0.341,"paddingOuter":0.386,"align":0.56},"axis":{"title":"Pre","labels":false,"ticks":false,"titleFontSize":17,"titlePadding":4,"offset":-28}},"y":{"field":"v","type":"quantitative","scale":{"domain":[0,1.5],"nice":false,"range":[172,27]},"axis":{"title":"Peak response","values":[0,0.5,1,1.5],"format":".1f"}},"stroke":{"field":"o","type":"nominal","scale":{"domain":["CS+","CS−"],"range":["#178a17","#1f1ff5"]},"legend":null}}},
 {"data":{"name":"pts"},"transform":[{"filter":"datum.p=='a'&&datum.ph=='Pre'"},{"fold":["CS+","CS−"],"as":["o","v"]}],"mark":{"type":"line","color":"#8686b6","strokeWidth":1.5},"encoding":{"x":{"field":"o","type":"nominal"},"y":{"field":"v","type":"quantitative"},"detail":{"field":"id"}}},
 {"data":{"name":"pts"},"transform":[{"filter":"datum.p=='a'&&datum.ph=='Pre'"},{"fold":["CS+","CS−"],"as":["o","v"]}],"mark":{"type":"circle","size":26,"opacity":1},"encoding":{"x":{"field":"o","type":"nominal"},"y":{"field":"v","type":"quantitative"},"color":{"field":"o","type":"nominal","scale":{"domain":["CS+","CS−"],"range":["#178a17","#1f1ff5"]},"legend":null}}},
 {"data":{"name":"sig"},"transform":[{"filter":"datum.p=='a'&&datum.ph=='Pre'"}],"mark":{"type":"rule","color":"black","strokeWidth":2.5},"encoding":{"x":{"field":"a","type":"nominal"},"x2":{"field":"b"},"y":{"field":"y","type":"quantitative"}}},
 {"data":{"name":"sig"},"transform":[{"filter":"datum.p=='a'&&datum.ph=='Pre'"}],"mark":{"type":"text","fontSize":18,"baseline":"alphabetic","dy":-5},"encoding":{"x":{"field":"a","type":"nominal","bandPosition":1.259},"y":{"field":"y","type":"quantitative"},"text":{"field":"s"}}}
]},
{"width":12,"height":220,"data":{"values":[{}]},"mark":{"type":"point","opacity":0}},
{"width":118,"height":200,"layer":[
 {"data":{"name":"bars"},"transform":[{"filter":"datum.p=='a'&&datum.ph=='Post'"}],"mark":{"type":"bar","fill":"white","fillOpacity":0,"strokeWidth":2.7},"encoding":{"x":{"field":"o","type":"nominal","scale":{"domain":["CS+","CS−"],"paddingInner":0.383,"paddingOuter":0.447,"align":0.357},"axis":{"title":"Post 1 hr","labels":false,"ticks":false,"titleFontSize":17,"titlePadding":4,"offset":-28}},"y":{"field":"v","type":"quantitative","scale":{"domain":[0,1.5],"nice":false,"range":[172,27]},"axis":null},"stroke":{"field":"o","type":"nominal","scale":{"domain":["CS+","CS−"],"range":["#178a17","#1f1ff5"]},"legend":null}}},
 {"data":{"name":"pts"},"transform":[{"filter":"datum.p=='a'&&datum.ph=='Post'"},{"fold":["CS+","CS−"],"as":["o","v"]}],"mark":{"type":"line","color":"#8686b6","strokeWidth":1.5},"encoding":{"x":{"field":"o","type":"nominal"},"y":{"field":"v","type":"quantitative"},"detail":{"field":"id"}}},
 {"data":{"name":"pts"},"transform":[{"filter":"datum.p=='a'&&datum.ph=='Post'"},{"fold":["CS+","CS−"],"as":["o","v"]}],"mark":{"type":"circle","size":26,"opacity":1},"encoding":{"x":{"field":"o","type":"nominal"},"y":{"field":"v","type":"quantitative"},"color":{"field":"o","type":"nominal","scale":{"domain":["CS+","CS−"],"range":["#178a17","#1f1ff5"]},"legend":null}}},
 {"data":{"name":"sig"},"transform":[{"filter":"datum.p=='a'&&datum.ph=='Post'"}],"mark":{"type":"rule","color":"black","strokeWidth":2.5},"encoding":{"x":{"field":"a","type":"nominal"},"x2":{"field":"b"},"y":{"field":"y","type":"quantitative"}}},
 {"data":{"name":"sig"},"transform":[{"filter":"datum.p=='a'&&datum.ph=='Post'"}],"mark":{"type":"text","fontSize":18,"baseline":"alphabetic","dy":-5},"encoding":{"x":{"field":"a","type":"nominal","bandPosition":1.31},"y":{"field":"y","type":"quantitative"},"text":{"field":"s"}}}
]},
{"width":229,"height":200,"data":{"name":"b_pre"},"layer":[
 {"mark":{"type":"errorband","color":"#7f86ee","opacity":0.5},"encoding":{"x":{"field":"t","type":"quantitative","scale":{"domain":[-17.18,12.18],"nice":false,"zero":false},"axis":null},"y":{"field":"nm","type":"quantitative","scale":{"domain":[-1.1537,2.55],"nice":false,"zero":false},"axis":null},"yError":{"field":"ns"}}},
 {"mark":{"type":"line","color":"#1f1ff5","strokeWidth":1.6},"encoding":{"x":{"field":"t","type":"quantitative","axis":null},"y":{"field":"nm","type":"quantitative","axis":null}}},
 {"mark":{"type":"errorband","color":"#8fe68f","opacity":0.6},"encoding":{"x":{"field":"t","type":"quantitative","axis":null},"y":{"field":"pm","type":"quantitative","axis":null},"yError":{"field":"ps"}}},
 {"mark":{"type":"line","color":"#178a17","strokeWidth":1.6},"encoding":{"x":{"field":"t","type":"quantitative","axis":null},"y":{"field":"pm","type":"quantitative","axis":null}}},
 {"data":{"name":"dl"},"transform":[{"filter":"datum.p=='b'&&datum.ph=='Pre'"}],"mark":{"type":"rule","color":"black","strokeWidth":1.4,"strokeDash":[1.5,3]},"encoding":{"x":{"field":"t","type":"quantitative","axis":null},"y":{"field":"lo","type":"quantitative","axis":null},"y2":{"field":"hi"}}},
 {"data":{"name":"bl"},"transform":[{"filter":"datum.p=='b'&&datum.ph=='Pre'"}],"mark":{"type":"rule","color":"black","strokeWidth":2.5},"encoding":{"x":{"field":"t","type":"quantitative","axis":null},"x2":{"field":"t2"},"y":{"field":"v","type":"quantitative","axis":null}}},
 {"data":{"name":"sb"},"transform":[{"filter":"datum.p=='b'"}],"mark":{"type":"rule","color":"black","strokeWidth":2,"strokeCap":"square"},"encoding":{"x":{"field":"t","type":"quantitative","axis":null},"y":{"field":"v","type":"quantitative","axis":null},"y2":{"field":"v2"}}},
 {"data":{"name":"sb"},"transform":[{"filter":"datum.p=='b'"}],"mark":{"type":"rule","color":"black","strokeWidth":2,"strokeCap":"square"},"encoding":{"x":{"field":"t","type":"quantitative","axis":null},"x2":{"field":"t2"},"y":{"field":"v","type":"quantitative","axis":null}}},
 {"data":{"name":"sb"},"transform":[{"filter":"datum.p=='b'"}],"mark":{"type":"text","text":"50%","align":"right","dx":-5,"dy":-21},"encoding":{"x":{"field":"t","type":"quantitative","axis":null},"y":{"field":"v","type":"quantitative","axis":null}}},
 {"data":{"name":"sb"},"transform":[{"filter":"datum.p=='b'"}],"mark":{"type":"text","text":"dF/F","fontStyle":"italic","align":"right","dx":-5,"dy":-5},"encoding":{"x":{"field":"t","type":"quantitative","axis":null},"y":{"field":"v","type":"quantitative","axis":null}}},
 {"data":{"name":"sb"},"transform":[{"filter":"datum.p=='b'"}],"mark":{"type":"text","text":"2","align":"center","dx":7,"dy":14},"encoding":{"x":{"field":"t","type":"quantitative","axis":null},"y":{"field":"v","type":"quantitative","axis":null}}},
 {"data":{"name":"sb"},"transform":[{"filter":"datum.p=='b'"}],"mark":{"type":"text","text":"t (s)","align":"left","dx":19,"dy":0},"encoding":{"x":{"field":"t","type":"quantitative","axis":null},"y":{"field":"v","type":"quantitative","axis":null}}},
 {"data":{"values":[{"lab":"Pre"}]},"mark":{"type":"text","fontSize":17,"dx":42.5,"dy":87},"encoding":{"text":{"field":"lab"}}}
]},
{"width":209,"height":200,"data":{"name":"b_post"},"layer":[
 {"mark":{"type":"errorband","color":"#7f86ee","opacity":0.5},"encoding":{"x":{"field":"t","type":"quantitative","scale":{"domain":[-5.474,21.32],"nice":false,"zero":false},"axis":null},"y":{"field":"nm","type":"quantitative","scale":{"domain":[-1.1537,2.55],"nice":false,"zero":false},"axis":null},"yError":{"field":"ns"}}},
 {"mark":{"type":"line","color":"#1f1ff5","strokeWidth":1.6},"encoding":{"x":{"field":"t","type":"quantitative","axis":null},"y":{"field":"nm","type":"quantitative","axis":null}}},
 {"mark":{"type":"errorband","color":"#8fe68f","opacity":0.6},"encoding":{"x":{"field":"t","type":"quantitative","axis":null},"y":{"field":"pm","type":"quantitative","axis":null},"yError":{"field":"ps"}}},
 {"mark":{"type":"line","color":"#178a17","strokeWidth":1.6},"encoding":{"x":{"field":"t","type":"quantitative","axis":null},"y":{"field":"pm","type":"quantitative","axis":null}}},
 {"data":{"name":"dl"},"transform":[{"filter":"datum.p=='b'&&datum.ph=='Post'"}],"mark":{"type":"rule","color":"black","strokeWidth":1.4,"strokeDash":[1.5,3]},"encoding":{"x":{"field":"t","type":"quantitative","axis":null},"y":{"field":"lo","type":"quantitative","axis":null},"y2":{"field":"hi"}}},
 {"data":{"name":"bl"},"transform":[{"filter":"datum.p=='b'&&datum.ph=='Post'"}],"mark":{"type":"rule","color":"black","strokeWidth":2.5},"encoding":{"x":{"field":"t","type":"quantitative","axis":null},"x2":{"field":"t2"},"y":{"field":"v","type":"quantitative","axis":null}}},
 {"data":{"values":[{"lab":"Post 1 hr"}]},"mark":{"type":"text","fontSize":17,"dx":-16.5,"dy":87},"encoding":{"text":{"field":"lab"}}}
]},
{"width":107,"height":200,"layer":[
 {"data":{"name":"bars"},"transform":[{"filter":"datum.p=='b'&&datum.ph=='Pre'"}],"mark":{"type":"bar","fill":"white","fillOpacity":0,"strokeWidth":2.7},"encoding":{"x":{"field":"o","type":"nominal","scale":{"domain":["CS+","CS−"],"paddingInner":0.341,"paddingOuter":0.386,"align":0.5},"axis":{"title":"Pre","labels":false,"ticks":false,"titleFontSize":17,"titlePadding":4,"offset":-28}},"y":{"field":"v","type":"quantitative","scale":{"domain":[0,1.5],"nice":false,"range":[172,27]},"axis":{"title":"Peak response","values":[0,0.5,1,1.5],"format":".1f"}},"stroke":{"field":"o","type":"nominal","scale":{"domain":["CS+","CS−"],"range":["#178a17","#1f1ff5"]},"legend":null}}},
 {"data":{"name":"pts"},"transform":[{"filter":"datum.p=='b'&&datum.ph=='Pre'"},{"fold":["CS+","CS−"],"as":["o","v"]}],"mark":{"type":"line","color":"#8686b6","strokeWidth":1.5},"encoding":{"x":{"field":"o","type":"nominal"},"y":{"field":"v","type":"quantitative"},"detail":{"field":"id"}}},
 {"data":{"name":"pts"},"transform":[{"filter":"datum.p=='b'&&datum.ph=='Pre'"},{"fold":["CS+","CS−"],"as":["o","v"]}],"mark":{"type":"circle","size":26,"opacity":1},"encoding":{"x":{"field":"o","type":"nominal"},"y":{"field":"v","type":"quantitative"},"color":{"field":"o","type":"nominal","scale":{"domain":["CS+","CS−"],"range":["#178a17","#1f1ff5"]},"legend":null}}},
 {"data":{"name":"sig"},"transform":[{"filter":"datum.p=='b'&&datum.ph=='Pre'"}],"mark":{"type":"rule","color":"black","strokeWidth":2.5},"encoding":{"x":{"field":"a","type":"nominal"},"x2":{"field":"b"},"y":{"field":"y","type":"quantitative"}}},
 {"data":{"name":"sig"},"transform":[{"filter":"datum.p=='b'&&datum.ph=='Pre'"}],"mark":{"type":"text","fontSize":18,"baseline":"alphabetic","dy":-5},"encoding":{"x":{"field":"a","type":"nominal","bandPosition":1.259},"y":{"field":"y","type":"quantitative"},"text":{"field":"s"}}}
]},
{"width":12,"height":1,"data":{"values":[{}]},"mark":{"type":"point","opacity":0}},
{"width":110,"height":200,"layer":[
 {"data":{"name":"bars"},"transform":[{"filter":"datum.p=='b'&&datum.ph=='Post'"}],"mark":{"type":"bar","fill":"white","fillOpacity":0,"strokeWidth":2.7},"encoding":{"x":{"field":"o","type":"nominal","scale":{"domain":["CS+","CS−"],"paddingInner":0.383,"paddingOuter":0.362,"align":0.53},"axis":{"title":"Post 1 hr","labels":false,"ticks":false,"titleFontSize":17,"titlePadding":4,"offset":-28}},"y":{"field":"v","type":"quantitative","scale":{"domain":[0,1.5],"nice":false,"range":[172,27]},"axis":null},"stroke":{"field":"o","type":"nominal","scale":{"domain":["CS+","CS−"],"range":["#178a17","#1f1ff5"]},"legend":null}}},
 {"data":{"name":"pts"},"transform":[{"filter":"datum.p=='b'&&datum.ph=='Post'"},{"fold":["CS+","CS−"],"as":["o","v"]}],"mark":{"type":"line","color":"#8686b6","strokeWidth":1.5},"encoding":{"x":{"field":"o","type":"nominal"},"y":{"field":"v","type":"quantitative"},"detail":{"field":"id"}}},
 {"data":{"name":"pts"},"transform":[{"filter":"datum.p=='b'&&datum.ph=='Post'"},{"fold":["CS+","CS−"],"as":["o","v"]}],"mark":{"type":"circle","size":26,"opacity":1},"encoding":{"x":{"field":"o","type":"nominal"},"y":{"field":"v","type":"quantitative"},"color":{"field":"o","type":"nominal","scale":{"domain":["CS+","CS−"],"range":["#178a17","#1f1ff5"]},"legend":null}}},
 {"data":{"name":"sig"},"transform":[{"filter":"datum.p=='b'&&datum.ph=='Post'"}],"mark":{"type":"rule","color":"black","strokeWidth":2.5},"encoding":{"x":{"field":"a","type":"nominal"},"x2":{"field":"b"},"y":{"field":"y","type":"quantitative"}}},
 {"data":{"name":"sig"},"transform":[{"filter":"datum.p=='b'&&datum.ph=='Post'"}],"mark":{"type":"text","fontSize":18,"baseline":"alphabetic","dy":-5},"encoding":{"x":{"field":"a","type":"nominal","bandPosition":1.31},"y":{"field":"y","type":"quantitative"},"text":{"field":"s"}}}
]}
],"spacing":0,"bounds":"flush"},

{"hconcat":[
{"width":50,"height":36,"data":{"values":[{"lab":"(c)"}]},"mark":{"type":"text","fontSize":20,"dx":-5,"dy":-9.5},"encoding":{"text":{"field":"lab"}}},
{"width":493,"height":36,"view":{"stroke":"#555555","strokeWidth":1.1,"cornerRadius":6},"data":{"values":[{"k":"t","lab":"2-5 d flies (Control)"},{"k":"CS+","lab":"CS+ OCT"},{"k":"CS−","lab":"CS− MCH"}]},
 "layer":[
 {"transform":[{"filter":"datum.k=='t'"}],"mark":{"type":"text","fontSize":17,"dx":-119},"encoding":{"text":{"field":"lab"}}},
 {"transform":[{"filter":"datum.k=='CS+'"}],"mark":{"type":"text","fontSize":17,"dx":47.5,"color":"#7a1a8e"},"encoding":{"text":{"field":"lab"}}},
 {"transform":[{"filter":"datum.k=='CS−'"}],"mark":{"type":"text","fontSize":17,"dx":161,"color":"#1f1ff5"},"encoding":{"text":{"field":"lab"}}}
 ]},
{"width":124,"height":48,"data":{"values":[{}]},"mark":{"type":"point","opacity":0}},
{"width":48,"height":36,"data":{"values":[{"lab":"(d)"}]},"mark":{"type":"text","fontSize":20,"dx":-10,"dy":-9.5},"encoding":{"text":{"field":"lab"}}},
{"width":492,"height":36,"view":{"stroke":"#555555","strokeWidth":1.1,"cornerRadius":6},"data":{"values":[{"k":"t","lab":"2-5 d flies (U0126＋)"},{"k":"CS+","lab":"CS+ OCT"},{"k":"CS−","lab":"CS− MCH"}]},
 "layer":[
 {"transform":[{"filter":"datum.k=='t'"}],"mark":{"type":"text","fontSize":17,"dx":-112.5},"encoding":{"text":{"field":"lab"}}},
 {"transform":[{"filter":"datum.k=='CS+'"}],"mark":{"type":"text","fontSize":17,"dx":48,"color":"#7a1a8e"},"encoding":{"text":{"field":"lab"}}},
 {"transform":[{"filter":"datum.k=='CS−'"}],"mark":{"type":"text","fontSize":17,"dx":161.5,"color":"#1f1ff5"},"encoding":{"text":{"field":"lab"}}}
 ]}
],"spacing":0,"bounds":"flush"},

{"hconcat":[
{"width":200,"height":197,"data":{"name":"c_pre"},"layer":[
 {"mark":{"type":"errorband","color":"#7f86ee","opacity":0.5},"encoding":{"x":{"field":"t","type":"quantitative","scale":{"domain":[-11.63,12.18],"nice":false,"zero":false},"axis":null},"y":{"field":"nm","type":"quantitative","scale":{"domain":[-0.8977,1.3409],"nice":false,"zero":false},"axis":null},"yError":{"field":"ns"}}},
 {"mark":{"type":"line","color":"#1f1ff5","strokeWidth":1.6},"encoding":{"x":{"field":"t","type":"quantitative","axis":null},"y":{"field":"nm","type":"quantitative","axis":null}}},
 {"mark":{"type":"errorband","color":"#d98ae8","opacity":0.6},"encoding":{"x":{"field":"t","type":"quantitative","axis":null},"y":{"field":"pm","type":"quantitative","axis":null},"yError":{"field":"ps"}}},
 {"mark":{"type":"line","color":"#7a1a8e","strokeWidth":1.6},"encoding":{"x":{"field":"t","type":"quantitative","axis":null},"y":{"field":"pm","type":"quantitative","axis":null}}},
 {"data":{"name":"dl"},"transform":[{"filter":"datum.p=='c'&&datum.ph=='Pre'"}],"mark":{"type":"rule","color":"black","strokeWidth":1.4,"strokeDash":[1.5,3]},"encoding":{"x":{"field":"t","type":"quantitative","axis":null},"y":{"field":"lo","type":"quantitative","axis":null},"y2":{"field":"hi"}}},
 {"data":{"name":"bl"},"transform":[{"filter":"datum.p=='c'&&datum.ph=='Pre'"}],"mark":{"type":"rule","color":"black","strokeWidth":2.5},"encoding":{"x":{"field":"t","type":"quantitative","axis":null},"x2":{"field":"t2"},"y":{"field":"v","type":"quantitative","axis":null}}},
 {"data":{"name":"sb"},"transform":[{"filter":"datum.p=='c'"}],"mark":{"type":"rule","color":"black","strokeWidth":2,"strokeCap":"square"},"encoding":{"x":{"field":"t","type":"quantitative","axis":null},"y":{"field":"v","type":"quantitative","axis":null},"y2":{"field":"v2"}}},
 {"data":{"name":"sb"},"transform":[{"filter":"datum.p=='c'"}],"mark":{"type":"rule","color":"black","strokeWidth":2,"strokeCap":"square"},"encoding":{"x":{"field":"t","type":"quantitative","axis":null},"x2":{"field":"t2"},"y":{"field":"v","type":"quantitative","axis":null}}},
 {"data":{"name":"sb"},"transform":[{"filter":"datum.p=='c'"}],"mark":{"type":"text","text":"50%","align":"right","dx":-7,"dy":-25},"encoding":{"x":{"field":"t","type":"quantitative","axis":null},"y":{"field":"v","type":"quantitative","axis":null}}},
 {"data":{"name":"sb"},"transform":[{"filter":"datum.p=='c'"}],"mark":{"type":"text","text":"dF/F","fontStyle":"italic","align":"right","dx":-7,"dy":-6},"encoding":{"x":{"field":"t","type":"quantitative","axis":null},"y":{"field":"v","type":"quantitative","axis":null}}},
 {"data":{"name":"sb"},"transform":[{"filter":"datum.p=='c'"}],"mark":{"type":"text","text":"2","align":"center","dx":7,"dy":12},"encoding":{"x":{"field":"t","type":"quantitative","axis":null},"y":{"field":"v","type":"quantitative","axis":null}}},
 {"data":{"name":"sb"},"transform":[{"filter":"datum.p=='c'"}],"mark":{"type":"text","text":"t (s)","align":"left","dx":17,"dy":2},"encoding":{"x":{"field":"t","type":"quantitative","axis":null},"y":{"field":"v","type":"quantitative","axis":null}}},
 {"data":{"values":[{"lab":"Pre"}]},"mark":{"type":"text","fontSize":17,"dx":23,"dy":86.5},"encoding":{"text":{"field":"lab"}}}
]},
{"width":208,"height":197,"data":{"name":"c_post"},"layer":[
 {"mark":{"type":"errorband","color":"#7f86ee","opacity":0.5},"encoding":{"x":{"field":"t","type":"quantitative","scale":{"domain":[-6.667,19.01],"nice":false,"zero":false},"axis":null},"y":{"field":"nm","type":"quantitative","scale":{"domain":[-0.8977,1.3409],"nice":false,"zero":false},"axis":null},"yError":{"field":"ns"}}},
 {"mark":{"type":"line","color":"#1f1ff5","strokeWidth":1.6},"encoding":{"x":{"field":"t","type":"quantitative","axis":null},"y":{"field":"nm","type":"quantitative","axis":null}}},
 {"mark":{"type":"errorband","color":"#d98ae8","opacity":0.6},"encoding":{"x":{"field":"t","type":"quantitative","axis":null},"y":{"field":"pm","type":"quantitative","axis":null},"yError":{"field":"ps"}}},
 {"mark":{"type":"line","color":"#7a1a8e","strokeWidth":1.6},"encoding":{"x":{"field":"t","type":"quantitative","axis":null},"y":{"field":"pm","type":"quantitative","axis":null}}},
 {"data":{"name":"dl"},"transform":[{"filter":"datum.p=='c'&&datum.ph=='Post'"}],"mark":{"type":"rule","color":"black","strokeWidth":1.4,"strokeDash":[1.5,3]},"encoding":{"x":{"field":"t","type":"quantitative","axis":null},"y":{"field":"lo","type":"quantitative","axis":null},"y2":{"field":"hi"}}},
 {"data":{"name":"bl"},"transform":[{"filter":"datum.p=='c'&&datum.ph=='Post'"}],"mark":{"type":"rule","color":"black","strokeWidth":2.5},"encoding":{"x":{"field":"t","type":"quantitative","axis":null},"x2":{"field":"t2"},"y":{"field":"v","type":"quantitative","axis":null}}},
 {"data":{"values":[{"lab":"Post 1 hr"}]},"mark":{"type":"text","fontSize":17,"dx":-26,"dy":86.5},"encoding":{"text":{"field":"lab"}}}
]},
{"width":114,"height":197,"layer":[
 {"data":{"name":"bars"},"transform":[{"filter":"datum.p=='c'&&datum.ph=='Pre'"}],"mark":{"type":"bar","fill":"white","fillOpacity":0,"strokeWidth":2.7},"encoding":{"x":{"field":"o","type":"nominal","scale":{"domain":["CS+","CS−"],"paddingInner":0.356,"paddingOuter":0.445,"align":0.475},"axis":{"title":"Pre","labels":false,"ticks":false,"titleFontSize":17,"titlePadding":4,"offset":-25.7}},"y":{"field":"v","type":"quantitative","scale":{"domain":[0,1.5],"nice":false,"range":[171.3,32.3]},"axis":{"title":"Peak response","values":[0,0.5,1,1.5],"format":".1f"}},"stroke":{"field":"o","type":"nominal","scale":{"domain":["CS+","CS−"],"range":["#7a1a8e","#1f1ff5"]},"legend":null}}},
 {"data":{"name":"pts"},"transform":[{"filter":"datum.p=='c'&&datum.ph=='Pre'"},{"fold":["CS+","CS−"],"as":["o","v"]}],"mark":{"type":"line","color":"#8686b6","strokeWidth":1.5},"encoding":{"x":{"field":"o","type":"nominal"},"y":{"field":"v","type":"quantitative"},"detail":{"field":"id"}}},
 {"data":{"name":"pts"},"transform":[{"filter":"datum.p=='c'&&datum.ph=='Pre'"},{"fold":["CS+","CS−"],"as":["o","v"]}],"mark":{"type":"circle","size":26,"opacity":1},"encoding":{"x":{"field":"o","type":"nominal"},"y":{"field":"v","type":"quantitative"},"color":{"field":"o","type":"nominal","scale":{"domain":["CS+","CS−"],"range":["#7a1a8e","#1f1ff5"]},"legend":null}}},
 {"data":{"name":"sig"},"transform":[{"filter":"datum.p=='c'&&datum.ph=='Pre'"}],"mark":{"type":"rule","color":"black","strokeWidth":2.5},"encoding":{"x":{"field":"a","type":"nominal"},"x2":{"field":"b"},"y":{"field":"y","type":"quantitative"}}},
 {"data":{"name":"sig"},"transform":[{"filter":"datum.p=='c'&&datum.ph=='Pre'"}],"mark":{"type":"text","fontSize":18,"baseline":"alphabetic","dy":-5},"encoding":{"x":{"field":"a","type":"nominal","bandPosition":1.276},"y":{"field":"y","type":"quantitative"},"text":{"field":"s"}}}
]},
{"width":12,"height":1,"data":{"values":[{}]},"mark":{"type":"point","opacity":0}},
{"width":108,"height":197,"layer":[
 {"data":{"name":"bars"},"transform":[{"filter":"datum.p=='c'&&datum.ph=='Post'"}],"mark":{"type":"bar","fill":"white","fillOpacity":0,"strokeWidth":2.7},"encoding":{"x":{"field":"o","type":"nominal","scale":{"domain":["CS+","CS−"],"paddingInner":0.37,"paddingOuter":0.359,"align":0.515},"axis":{"title":"Post 1 hr","labels":false,"ticks":false,"titleFontSize":17,"titlePadding":4,"offset":-25.7}},"y":{"field":"v","type":"quantitative","scale":{"domain":[0,1.5],"nice":false,"range":[171.3,32.3]},"axis":null},"stroke":{"field":"o","type":"nominal","scale":{"domain":["CS+","CS−"],"range":["#7a1a8e","#1f1ff5"]},"legend":null}}},
 {"data":{"name":"pts"},"transform":[{"filter":"datum.p=='c'&&datum.ph=='Post'"},{"fold":["CS+","CS−"],"as":["o","v"]}],"mark":{"type":"line","color":"#8686b6","strokeWidth":1.5},"encoding":{"x":{"field":"o","type":"nominal"},"y":{"field":"v","type":"quantitative"},"detail":{"field":"id"}}},
 {"data":{"name":"pts"},"transform":[{"filter":"datum.p=='c'&&datum.ph=='Post'"},{"fold":["CS+","CS−"],"as":["o","v"]}],"mark":{"type":"circle","size":26,"opacity":1},"encoding":{"x":{"field":"o","type":"nominal"},"y":{"field":"v","type":"quantitative"},"color":{"field":"o","type":"nominal","scale":{"domain":["CS+","CS−"],"range":["#7a1a8e","#1f1ff5"]},"legend":null}}},
 {"data":{"name":"sig"},"transform":[{"filter":"datum.p=='c'&&datum.ph=='Post'"}],"mark":{"type":"rule","color":"black","strokeWidth":2.5},"encoding":{"x":{"field":"a","type":"nominal"},"x2":{"field":"b"},"y":{"field":"y","type":"quantitative"}}},
 {"data":{"name":"sig"},"transform":[{"filter":"datum.p=='c'&&datum.ph=='Post'"}],"mark":{"type":"text","fontSize":18,"baseline":"alphabetic","dy":-5},"encoding":{"x":{"field":"a","type":"nominal","bandPosition":1.294},"y":{"field":"y","type":"quantitative"},"text":{"field":"s"}}}
]},
{"width":225,"height":197,"data":{"name":"d_pre"},"layer":[
 {"mark":{"type":"errorband","color":"#7f86ee","opacity":0.5},"encoding":{"x":{"field":"t","type":"quantitative","scale":{"domain":[-16.32,12.9],"nice":false,"zero":false},"axis":null},"y":{"field":"nm","type":"quantitative","scale":{"domain":[-0.8778,1.3111],"nice":false,"zero":false},"axis":null},"yError":{"field":"ns"}}},
 {"mark":{"type":"line","color":"#1f1ff5","strokeWidth":1.6},"encoding":{"x":{"field":"t","type":"quantitative","axis":null},"y":{"field":"nm","type":"quantitative","axis":null}}},
 {"mark":{"type":"errorband","color":"#d98ae8","opacity":0.6},"encoding":{"x":{"field":"t","type":"quantitative","axis":null},"y":{"field":"pm","type":"quantitative","axis":null},"yError":{"field":"ps"}}},
 {"mark":{"type":"line","color":"#7a1a8e","strokeWidth":1.6},"encoding":{"x":{"field":"t","type":"quantitative","axis":null},"y":{"field":"pm","type":"quantitative","axis":null}}},
 {"data":{"name":"dl"},"transform":[{"filter":"datum.p=='d'&&datum.ph=='Pre'"}],"mark":{"type":"rule","color":"black","strokeWidth":1.4,"strokeDash":[1.5,3]},"encoding":{"x":{"field":"t","type":"quantitative","axis":null},"y":{"field":"lo","type":"quantitative","axis":null},"y2":{"field":"hi"}}},
 {"data":{"name":"bl"},"transform":[{"filter":"datum.p=='d'&&datum.ph=='Pre'"}],"mark":{"type":"rule","color":"black","strokeWidth":2.5},"encoding":{"x":{"field":"t","type":"quantitative","axis":null},"x2":{"field":"t2"},"y":{"field":"v","type":"quantitative","axis":null}}},
 {"data":{"name":"sb"},"transform":[{"filter":"datum.p=='d'"}],"mark":{"type":"rule","color":"black","strokeWidth":2,"strokeCap":"square"},"encoding":{"x":{"field":"t","type":"quantitative","axis":null},"y":{"field":"v","type":"quantitative","axis":null},"y2":{"field":"v2"}}},
 {"data":{"name":"sb"},"transform":[{"filter":"datum.p=='d'"}],"mark":{"type":"rule","color":"black","strokeWidth":2,"strokeCap":"square"},"encoding":{"x":{"field":"t","type":"quantitative","axis":null},"x2":{"field":"t2"},"y":{"field":"v","type":"quantitative","axis":null}}},
 {"data":{"name":"sb"},"transform":[{"filter":"datum.p=='d'"}],"mark":{"type":"text","text":"50%","align":"right","dx":-9,"dy":-23},"encoding":{"x":{"field":"t","type":"quantitative","axis":null},"y":{"field":"v","type":"quantitative","axis":null}}},
 {"data":{"name":"sb"},"transform":[{"filter":"datum.p=='d'"}],"mark":{"type":"text","text":"dF/F","fontStyle":"italic","align":"right","dx":-7,"dy":-6},"encoding":{"x":{"field":"t","type":"quantitative","axis":null},"y":{"field":"v","type":"quantitative","axis":null}}},
 {"data":{"name":"sb"},"transform":[{"filter":"datum.p=='d'"}],"mark":{"type":"text","text":"2","align":"center","dx":6,"dy":14},"encoding":{"x":{"field":"t","type":"quantitative","axis":null},"y":{"field":"v","type":"quantitative","axis":null}}},
 {"data":{"name":"sb"},"transform":[{"filter":"datum.p=='d'"}],"mark":{"type":"text","text":"t (s)","align":"left","dx":17,"dy":4},"encoding":{"x":{"field":"t","type":"quantitative","axis":null},"y":{"field":"v","type":"quantitative","axis":null}}},
 {"data":{"values":[{"lab":"Pre"}]},"mark":{"type":"text","fontSize":17,"dx":47.5,"dy":86.5},"encoding":{"text":{"field":"lab"}}}
]},
{"width":229,"height":197,"data":{"name":"d_post"},"layer":[
 {"mark":{"type":"errorband","color":"#7f86ee","opacity":0.5},"encoding":{"x":{"field":"t","type":"quantitative","scale":{"domain":[-6.378,20.03],"nice":false,"zero":false},"axis":null},"y":{"field":"nm","type":"quantitative","scale":{"domain":[-0.8778,1.3111],"nice":false,"zero":false},"axis":null},"yError":{"field":"ns"}}},
 {"mark":{"type":"line","color":"#1f1ff5","strokeWidth":1.6},"encoding":{"x":{"field":"t","type":"quantitative","axis":null},"y":{"field":"nm","type":"quantitative","axis":null}}},
 {"mark":{"type":"errorband","color":"#d98ae8","opacity":0.6},"encoding":{"x":{"field":"t","type":"quantitative","axis":null},"y":{"field":"pm","type":"quantitative","axis":null},"yError":{"field":"ps"}}},
 {"mark":{"type":"line","color":"#7a1a8e","strokeWidth":1.6},"encoding":{"x":{"field":"t","type":"quantitative","axis":null},"y":{"field":"pm","type":"quantitative","axis":null}}},
 {"data":{"name":"dl"},"transform":[{"filter":"datum.p=='d'&&datum.ph=='Post'"}],"mark":{"type":"rule","color":"black","strokeWidth":1.4,"strokeDash":[1.5,3]},"encoding":{"x":{"field":"t","type":"quantitative","axis":null},"y":{"field":"lo","type":"quantitative","axis":null},"y2":{"field":"hi"}}},
 {"data":{"name":"bl"},"transform":[{"filter":"datum.p=='d'&&datum.ph=='Post'"}],"mark":{"type":"rule","color":"black","strokeWidth":2.5},"encoding":{"x":{"field":"t","type":"quantitative","axis":null},"x2":{"field":"t2"},"y":{"field":"v","type":"quantitative","axis":null}}},
 {"data":{"values":[{"lab":"Post 1 hr"}]},"mark":{"type":"text","fontSize":17,"dx":-20.5,"dy":86.5},"encoding":{"text":{"field":"lab"}}}
]},
{"width":109,"height":197,"layer":[
 {"data":{"name":"bars"},"transform":[{"filter":"datum.p=='d'&&datum.ph=='Pre'"}],"mark":{"type":"bar","fill":"white","fillOpacity":0,"strokeWidth":2.7},"encoding":{"x":{"field":"o","type":"nominal","scale":{"domain":["CS+","CS−"],"paddingInner":0.356,"paddingOuter":0.389,"align":0.514},"axis":{"title":"Pre","labels":false,"ticks":false,"titleFontSize":17,"titlePadding":4,"offset":-25.7}},"y":{"field":"v","type":"quantitative","scale":{"domain":[0,1.5],"nice":false,"range":[171.3,26.3]},"axis":{"title":"Peak response","values":[0,0.5,1,1.5],"format":".1f"}},"stroke":{"field":"o","type":"nominal","scale":{"domain":["CS+","CS−"],"range":["#7a1a8e","#1f1ff5"]},"legend":null}}},
 {"data":{"name":"pts"},"transform":[{"filter":"datum.p=='d'&&datum.ph=='Pre'"},{"fold":["CS+","CS−"],"as":["o","v"]}],"mark":{"type":"line","color":"#8686b6","strokeWidth":1.5},"encoding":{"x":{"field":"o","type":"nominal"},"y":{"field":"v","type":"quantitative"},"detail":{"field":"id"}}},
 {"data":{"name":"pts"},"transform":[{"filter":"datum.p=='d'&&datum.ph=='Pre'"},{"fold":["CS+","CS−"],"as":["o","v"]}],"mark":{"type":"circle","size":26,"opacity":1},"encoding":{"x":{"field":"o","type":"nominal"},"y":{"field":"v","type":"quantitative"},"color":{"field":"o","type":"nominal","scale":{"domain":["CS+","CS−"],"range":["#7a1a8e","#1f1ff5"]},"legend":null}}},
 {"data":{"name":"sig"},"transform":[{"filter":"datum.p=='d'&&datum.ph=='Pre'"}],"mark":{"type":"rule","color":"black","strokeWidth":2.5},"encoding":{"x":{"field":"a","type":"nominal"},"x2":{"field":"b"},"y":{"field":"y","type":"quantitative"}}},
 {"data":{"name":"sig"},"transform":[{"filter":"datum.p=='d'&&datum.ph=='Pre'"}],"mark":{"type":"text","fontSize":18,"baseline":"alphabetic","dy":-5},"encoding":{"x":{"field":"a","type":"nominal","bandPosition":1.276},"y":{"field":"y","type":"quantitative"},"text":{"field":"s"}}}
]},
{"width":20,"height":1,"data":{"values":[{}]},"mark":{"type":"point","opacity":0}},
{"width":108,"height":197,"layer":[
 {"data":{"name":"bars"},"transform":[{"filter":"datum.p=='d'&&datum.ph=='Post'"}],"mark":{"type":"bar","fill":"white","fillOpacity":0,"strokeWidth":2.7},"encoding":{"x":{"field":"o","type":"nominal","scale":{"domain":["CS+","CS−"],"paddingInner":0.37,"paddingOuter":0.359,"align":0.485},"axis":{"title":"Post 1 hr","labels":false,"ticks":false,"titleFontSize":17,"titlePadding":4,"offset":-25.7}},"y":{"field":"v","type":"quantitative","scale":{"domain":[0,1.5],"nice":false,"range":[171.3,26.3]},"axis":null},"stroke":{"field":"o","type":"nominal","scale":{"domain":["CS+","CS−"],"range":["#7a1a8e","#1f1ff5"]},"legend":null}}},
 {"data":{"name":"pts"},"transform":[{"filter":"datum.p=='d'&&datum.ph=='Post'"},{"fold":["CS+","CS−"],"as":["o","v"]}],"mark":{"type":"line","color":"#8686b6","strokeWidth":1.5},"encoding":{"x":{"field":"o","type":"nominal"},"y":{"field":"v","type":"quantitative"},"detail":{"field":"id"}}},
 {"data":{"name":"pts"},"transform":[{"filter":"datum.p=='d'&&datum.ph=='Post'"},{"fold":["CS+","CS−"],"as":["o","v"]}],"mark":{"type":"circle","size":26,"opacity":1},"encoding":{"x":{"field":"o","type":"nominal"},"y":{"field":"v","type":"quantitative"},"color":{"field":"o","type":"nominal","scale":{"domain":["CS+","CS−"],"range":["#7a1a8e","#1f1ff5"]},"legend":null}}},
 {"data":{"name":"sig"},"transform":[{"filter":"datum.p=='d'&&datum.ph=='Post'"}],"mark":{"type":"rule","color":"black","strokeWidth":2.5},"encoding":{"x":{"field":"a","type":"nominal"},"x2":{"field":"b"},"y":{"field":"y","type":"quantitative"}}},
 {"data":{"name":"sig"},"transform":[{"filter":"datum.p=='d'&&datum.ph=='Post'"}],"mark":{"type":"text","fontSize":18,"baseline":"alphabetic","dy":-5},"encoding":{"x":{"field":"a","type":"nominal","bandPosition":1.294},"y":{"field":"y","type":"quantitative"},"text":{"field":"s"}}}
]}
],"spacing":0,"bounds":"flush"}
],
"config":{
 "view":{"stroke":null},
 "font":"Liberation Sans",
 "text":{"font":"Liberation Sans","fontWeight":"bold","fontSize":16,"color":"black"},
 "axis":{"grid":false,"domainColor":"black","domainWidth":2.5,"tickColor":"black","tickWidth":2.5,"tickSize":5,"labelFont":"Liberation Sans","labelFontSize":16,"labelFontWeight":"bold","labelColor":"black","labelPadding":1,"titleFont":"Liberation Sans","titleFontSize":16,"titleFontWeight":"bold","titleColor":"black","titlePadding":4},
 "legend":{"disable":true}
}
}
